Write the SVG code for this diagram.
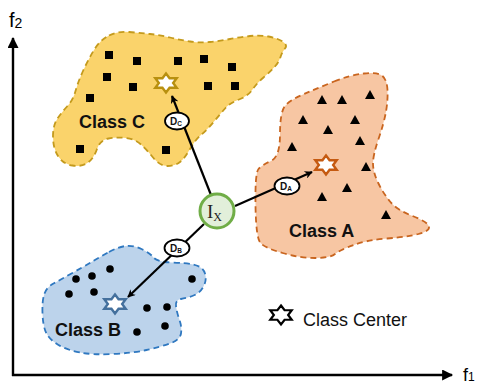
<svg xmlns="http://www.w3.org/2000/svg" xmlns:xlink="http://www.w3.org/1999/xlink" width="480" height="386" viewBox="0 0 480 386">
  <style>
    .region { stroke-width: 1.8; stroke-dasharray: 6 4; }
    .cls { font-family: "Liberation Sans", Arial, sans-serif; font-weight: bold; font-size: 18px; fill: #111; }
    .axis { stroke: #000; stroke-width: 2.4; fill: none; }
    .axlbl { font-family: "Liberation Sans", Arial, sans-serif; fill: #000; }
    .conn { stroke: #000; stroke-width: 2.2; fill: none; }
    .dlbl { fill: #fff; stroke: #000; stroke-width: 1.8; }
    .dtxt { font-family: "Liberation Sans", Arial, sans-serif; font-weight: bold; font-size: 10px; fill: #111; }
    .ctr { fill: #fff; stroke-width: 2.4; stroke-linejoin: miter; }
  </style>
  <defs>
    <polygon id="star" points="0,-9.5 3.57,-4.75 10.7,-4.75 7.13,0 10.7,4.75 3.57,4.75 0,9.5 -3.57,4.75 -10.7,4.75 -7.13,0 -10.7,-4.75 -3.57,-4.75"/>
    <rect id="sq" x="-4" y="-4" width="8" height="8" fill="#000"/>
    <path id="tri" d="M0,-5 L5,4 L-5,4 Z" fill="#000"/>
    <circle id="dot" r="3.8" fill="#000"/>
    <marker id="arr" viewBox="0 0 10 10" refX="9" refY="5" markerWidth="9" markerHeight="8" markerUnits="userSpaceOnUse" orient="auto">
      <path d="M0,0 L10,5 L0,10 L3,5 Z" fill="#000"/>
    </marker>
    <marker id="axarr" viewBox="0 0 10 10" refX="9" refY="5" markerWidth="13" markerHeight="11" markerUnits="userSpaceOnUse" orient="auto">
      <path d="M0,0 L10,5 L0,10 Z" fill="#000"/>
    </marker>
  </defs>

  <!-- feature axes -->
  <g id="axes">
    <path class="axis" d="M13,376 L13,38" marker-end="url(#axarr)"/>
    <path class="axis" d="M12,375 L452,375" marker-end="url(#axarr)"/>
    <text class="axlbl" x="9" y="27" font-size="20">f<tspan font-size="14" dy="1">2</tspan></text>
    <text class="axlbl" x="463" y="381" font-size="18">f<tspan font-size="12" dy="0">1</tspan></text>
  </g>

  <!-- class C region -->
  <g id="classC">
    <path class="region" fill="#FAD36B" stroke="#C49A1C" d="M109,35.5 Q118,31 129,32 Q140,33 150,34 Q160,35 170,37.5 Q180,40 190,41.5 Q200,43 210,42 Q220,41 230,39 Q240,37 250,36 Q260,35 268.5,36.5 Q277,38 282.5,41.5 Q288,45 285,48.5 Q282,52 280.5,57 Q279,62 274.5,67 Q270,72 263.5,77.5 Q257,83 252.5,89.5 Q248,96 239,99.5 Q230,103 225.5,108 Q221,113 214.5,121 Q208,129 201.5,134.5 Q195,140 190,149 Q185,158 180,162 Q175,166 167.5,166 Q160,166 153.5,158 Q147,150 141,144.5 Q135,139 126,138 Q117,137 108.5,138.5 Q100,140 97,149 Q94,158 88,162.5 Q82,167 72.5,165.5 Q63,164 58,156 Q53,148 53,136.5 Q53,125 57.5,118.5 Q62,112 67.5,106 Q73,100 75.5,91 Q78,82 83,71 Q88,60 94,50 Q100,40 109,35.5 Z"/>
    <use xlink:href="#sq" x="109" y="55"/>
    <use xlink:href="#sq" x="137" y="61"/>
    <use xlink:href="#sq" x="178" y="61"/>
    <use xlink:href="#sq" x="204" y="59"/>
    <use xlink:href="#sq" x="232" y="67"/>
    <use xlink:href="#sq" x="107" y="77"/>
    <use xlink:href="#sq" x="133" y="87"/>
    <use xlink:href="#sq" x="208" y="86"/>
    <use xlink:href="#sq" x="235" y="86"/>
    <use xlink:href="#sq" x="90" y="98"/>
    <use xlink:href="#sq" x="80" y="149"/>
    <use xlink:href="#sq" x="166" y="150"/>
    <text class="cls" x="79" y="128">Class C</text>
  </g>

  <!-- class A region -->
  <g id="classA">
    <path class="region" fill="#F7C6A3" stroke="#C9651F" d="M334,81.5 Q350,75 364,73.5 Q378,72 382.5,76 Q387,80 387.5,90 Q388,100 386,111.5 Q384,123 378.5,139 Q373,155 373,163.5 Q373,172 378,182.5 Q383,193 390,201.5 Q397,210 412.5,216 Q428,222 429,226.5 Q430,231 418.5,234 Q407,237 387,238.5 Q367,240 353.5,245 Q340,250 335,254 Q330,258 315,258 Q300,258 282.5,253 Q265,248 260.5,243 Q256,238 255.5,205.5 Q255,173 258.5,169 Q262,165 271,161 Q280,157 280,134.5 Q280,112 285,106 Q290,100 304,94 Q318,88 334,81.5 Z"/>
    <use xlink:href="#tri" x="322" y="100"/>
    <use xlink:href="#tri" x="342" y="100"/>
    <use xlink:href="#tri" x="370" y="95"/>
    <use xlink:href="#tri" x="303" y="120"/>
    <use xlink:href="#tri" x="355" y="120"/>
    <use xlink:href="#tri" x="328" y="130"/>
    <use xlink:href="#tri" x="360" y="141"/>
    <use xlink:href="#tri" x="292" y="147"/>
    <use xlink:href="#tri" x="366" y="167"/>
    <use xlink:href="#tri" x="347" y="188"/>
    <use xlink:href="#tri" x="322" y="197"/>
    <use xlink:href="#tri" x="386" y="215"/>
    <text class="cls" x="289" y="237">Class A</text>
  </g>

  <!-- class B region -->
  <g id="classB">
    <path class="region" fill="#BCD3EB" stroke="#2F78C0" d="M109,252 Q118,247 125.5,246 Q133,245 141.5,249 Q150,253 153.5,257.5 Q157,262 172,262.5 Q187,263 195,265 Q203,267 205,273.5 Q207,280 203.5,286.5 Q200,293 193.5,295.5 Q187,298 181,299 Q175,300 176,306.5 Q177,313 179.5,320 Q182,327 181,333.5 Q180,340 170,343.5 Q160,347 146.5,350 Q133,353 113,354 Q93,355 80,352.5 Q67,350 58.5,345 Q50,340 46.5,333.5 Q43,327 42.5,313.5 Q42,300 44.5,293.5 Q47,287 53.5,283.5 Q60,280 71.5,273.5 Q83,267 91.5,262 Q100,257 109,252 Z"/>
    <use xlink:href="#dot" x="110" y="269"/>
    <use xlink:href="#dot" x="92" y="276"/>
    <use xlink:href="#dot" x="76" y="279"/>
    <use xlink:href="#dot" x="192" y="279"/>
    <use xlink:href="#dot" x="69" y="294"/>
    <use xlink:href="#dot" x="94" y="292"/>
    <use xlink:href="#dot" x="147" y="308"/>
    <use xlink:href="#dot" x="167" y="307"/>
    <use xlink:href="#dot" x="165" y="326"/>
    <use xlink:href="#dot" x="137" y="332"/>
    <text class="cls" x="55" y="336">Class B</text>
  </g>

  <!-- distance connectors from the sample to each class center -->
  <g id="connectors">
    <path class="conn" d="M211,195 L172,96" marker-end="url(#arr)"/>
    <path class="conn" d="M235,206 L312,172" marker-end="url(#arr)"/>
    <path class="conn" d="M204,224 L128,297" marker-end="url(#arr)"/>
  </g>

  <!-- class centers -->
  <g id="centerC"><use xlink:href="#star" x="166" y="83" class="ctr" stroke="#B8900F"/></g>
  <g id="centerA"><use xlink:href="#star" x="326" y="165" class="ctr" stroke="#C55A11"/></g>
  <g id="centerB"><use xlink:href="#star" x="115" y="304" class="ctr" stroke="#44709D"/></g>

  <!-- distance labels -->
  <g id="distC">
    <ellipse class="dlbl" cx="177" cy="121" rx="12" ry="8.5"/>
    <text class="dtxt" x="170" y="125">D<tspan font-size="6.5" dy="1">C</tspan></text>
  </g>
  <g id="distA">
    <ellipse class="dlbl" cx="287" cy="186" rx="12.5" ry="8.5"/>
    <text class="dtxt" x="280" y="190">D<tspan font-size="6.5" dy="1">A</tspan></text>
  </g>
  <g id="distB">
    <ellipse class="dlbl" cx="177" cy="248" rx="12.5" ry="8.5"/>
    <text class="dtxt" x="170" y="252">D<tspan font-size="6.5" dy="1">B</tspan></text>
  </g>

  <!-- input sample -->
  <g id="sample">
    <circle cx="217" cy="211" r="17" fill="#E2EFDA" stroke="#70AD47" stroke-width="3"/>
    <text x="207" y="218" font-family="'Liberation Serif', 'Times New Roman', serif" font-size="19" fill="#222">I<tspan font-size="12" dy="3">X</tspan></text>
  </g>

  <!-- legend -->
  <g id="legend">
    <use xlink:href="#star" x="281" y="315" fill="#fff" stroke="#000" stroke-width="2.2"/>
    <text x="303" y="326" font-family="'Liberation Sans', Arial, sans-serif" font-size="18" fill="#111">Class Center</text>
  </g>
</svg>
